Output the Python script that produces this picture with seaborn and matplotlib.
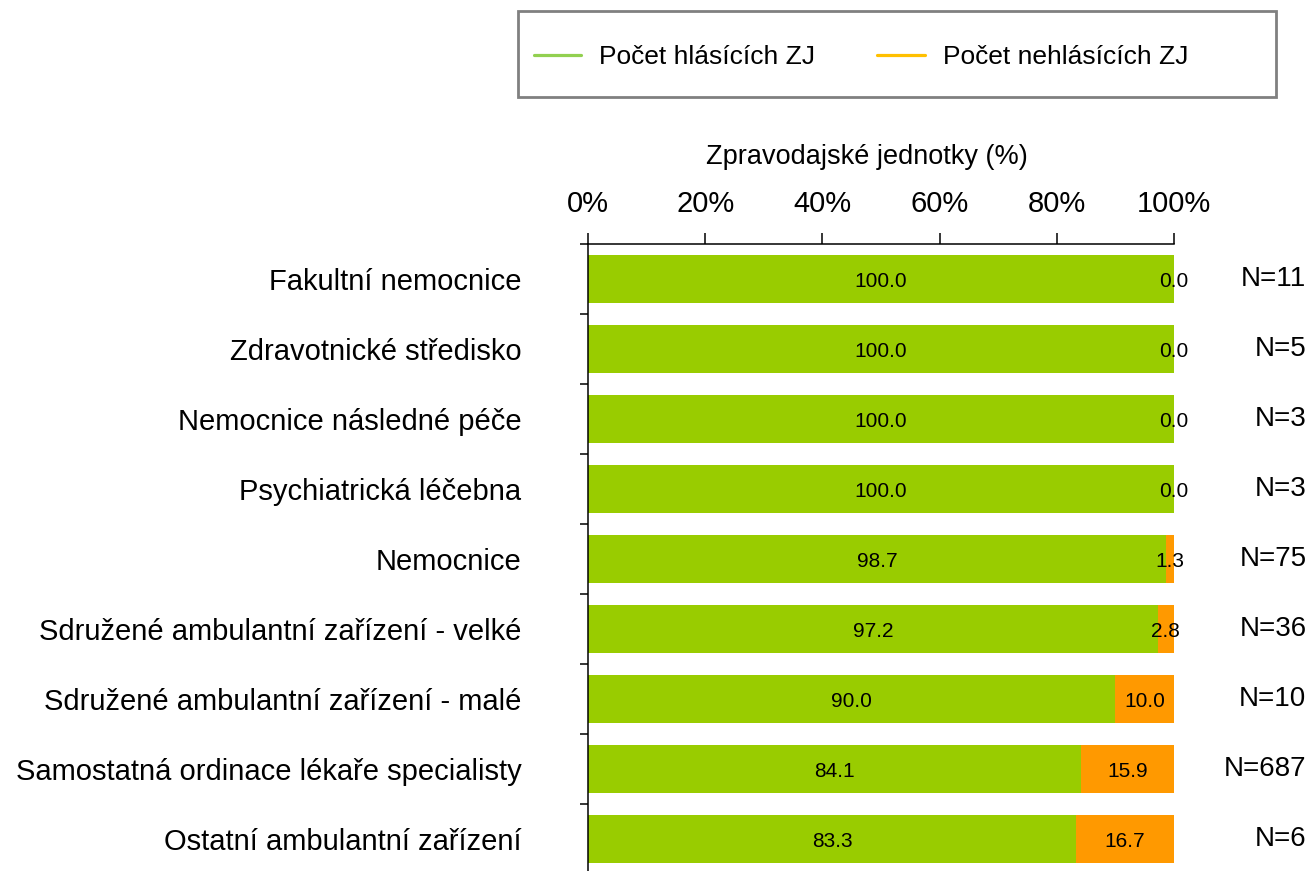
import matplotlib
matplotlib.use('Agg')
import matplotlib.pyplot as plt
from matplotlib.lines import Line2D
from matplotlib.patches import Rectangle
from matplotlib.ticker import PercentFormatter
import numpy as np
import pandas as pd
import seaborn as sns

# data
categories = ['Fakultní nemocnice', 'Zdravotnické středisko', 'Nemocnice následné péče',
              'Psychiatrická léčebna', 'Nemocnice', 'Sdružené ambulantní zařízení - velké',
              'Sdružené ambulantní zařízení - malé', 'Samostatná ordinace lékaře specialisty',
              'Ostatní ambulantní zařízení']
hlasici = [100.0, 100.0, 100.0, 100.0, 98.7, 97.2, 90.0, 84.1, 83.3]
nehlasici = [0.0, 0.0, 0.0, 0.0, 1.3, 2.8, 10.0, 15.9, 16.7]
n_units = [11, 5, 3, 3, 75, 36, 10, 687, 6]

GREEN = '#99CC00'
ORANGE = '#FF9900'

sns.set_style('white')
plt.rcParams['font.family'] = ['Liberation Sans', 'DejaVu Sans']
plt.rcParams['text.color'] = 'black'
plt.rcParams['xtick.color'] = 'black'
plt.rcParams['ytick.color'] = 'black'
plt.rcParams['axes.labelcolor'] = 'black'

df = pd.DataFrame({'cat': categories, 'hl': hlasici, 'nehl': nehlasici, 'n': n_units})
df['total'] = df['hl'] + df['nehl']

fig = plt.figure(figsize=(13.16, 8.71), dpi=100)
ax = fig.add_axes([588 / 1316, -3 / 871, (1174 - 588) / 1316, (874 - 244) / 871])

# stacked: total in orange underneath, green share on top
sns.barplot(data=df, x='total', y='cat', color=ORANGE, width=0.69, saturation=1,
            linewidth=0, ax=ax)
sns.barplot(data=df, x='hl', y='cat', color=GREEN, width=0.69, saturation=1,
            linewidth=0, ax=ax)

ax.set_xlim(0, 100)
ax.set_ylim(len(categories) - 0.5, -0.5)

# value labels
for i, row in df.iterrows():
    ax.text(row['hl'] / 2, i + 0.03, f"{row['hl']:.1f}", ha='center', va='center', fontsize=15)
    ax.text(row['hl'] + row['nehl'] / 2, i + 0.03, f"{row['nehl']:.1f}", ha='center',
            va='center', fontsize=15)
    ax.text(1.226, i, f"N={row['n']}", transform=ax.get_yaxis_transform(),
            ha='right', va='center', fontsize=20)

# x axis on top
ax.xaxis.set_ticks_position('top')
ax.xaxis.set_label_position('top')
ax.set_xticks(np.arange(0, 101, 20))
ax.xaxis.set_major_formatter(PercentFormatter(decimals=0))
ax.tick_params(axis='x', direction='out', length=8, width=1.1, labelsize=21, pad=11)
ax.set_xlabel('Zpravodajské jednotky (%)', fontsize=19.5)
ax.xaxis.set_label_coords(0.476, 1.117)
ax.xaxis.label.set_va('bottom')

# y axis: labels at centres, ticks at boundaries
ax.set_ylabel('')
ax.set_yticks(np.arange(len(categories)))
ax.set_yticklabels(categories)
ax.tick_params(axis='y', which='major', length=0, labelsize=21, pad=48)
ax.set_yticks(np.arange(-0.5, len(categories), 1), minor=True)
ax.tick_params(axis='y', which='minor', direction='out', length=6, width=1.1, left=True)

for side in ['right', 'bottom']:
    ax.spines[side].set_visible(False)
for side in ['left', 'top']:
    ax.spines[side].set_color('black')
    ax.spines[side].set_linewidth(1.1)

# legend in a grey box
fig.patches.append(Rectangle((518 / 1316, 1 - 97 / 871), (1276 - 518) / 1316, 86 / 871,
                             transform=fig.transFigure, facecolor='white',
                             edgecolor='#808080', linewidth=2))
handles = [Line2D([], [], color='#92D050', lw=2.3), Line2D([], [], color='#FFC000', lw=2.3)]
fig.legend(handles, ['Počet hlásících ZJ', 'Počet nehlásících ZJ'], ncol=2, frameon=False,
           loc='center left', bbox_to_anchor=(510 / 1316, 1 - 57 / 871), fontsize=19,
           handlelength=1.8, handletextpad=0.68, columnspacing=2.35)

fig.savefig('out.png', dpi=100)
